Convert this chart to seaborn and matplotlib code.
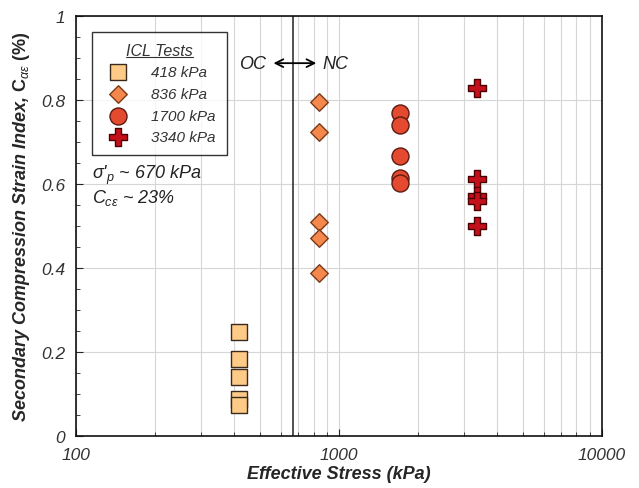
import matplotlib
matplotlib.use("Agg")
import matplotlib.pyplot as plt
from matplotlib.lines import Line2D
import seaborn as sns

# ICL test results: Calpha_e (%) vs effective stress (kPa)
stress_418 = [418, 418, 418, 418, 418]
calpha_418 = [0.248, 0.183, 0.140, 0.088, 0.074]

stress_836 = [836, 836, 836, 836, 836]
calpha_836 = [0.796, 0.724, 0.510, 0.471, 0.388]

stress_1700 = [1700, 1700, 1700, 1700, 1700]
calpha_1700 = [0.770, 0.741, 0.666, 0.614, 0.602]

stress_3340 = [3340, 3340, 3340, 3340, 3340]
calpha_3340 = [0.828, 0.612, 0.572, 0.560, 0.501]

labels = ["418 kPa", "836 kPa", "1700 kPa", "3340 kPa"]
sigma_p = 670

sns.set_style("white")
plt.rcParams["font.family"] = ["Liberation Sans", "DejaVu Sans"]
plt.rcParams["mathtext.fontset"] = "custom"
plt.rcParams["mathtext.rm"] = "Liberation Sans"
plt.rcParams["mathtext.it"] = "Liberation Sans:italic"
plt.rcParams["mathtext.bf"] = "Liberation Sans:bold"

fig = plt.figure(figsize=(6.39, 4.89), dpi=100)
ax = fig.add_axes([0.119, 0.106, 0.823, 0.859])

groups = [
    (stress_418, calpha_418, "s", "#fdca88", "#3a2a1a", 120),
    (stress_836, calpha_836, "D", "#f4874b", "#7a3a18", 80),
    (stress_1700, calpha_1700, "o", "#e34a30", "#5e1a10", 150),
    (stress_3340, calpha_3340, "P", "#c4101a", "#4a0000", 150),
]
for (xs, ys, mk, fc, ec, sz), lab in zip(groups, labels):
    sns.scatterplot(x=xs, y=ys, marker=mk, color=fc, edgecolor=ec,
                    linewidth=1.0, s=sz, ax=ax, label=lab, zorder=3)

ax.set_xscale("log")
ax.set_xlim(100, 10000)
ax.set_ylim(0, 1)

ax.axvline(sigma_p, color="#222222", lw=1.1, zorder=2)

ax.grid(True, which="both", axis="x", color="#d6d6d6", lw=0.8)
ax.grid(True, which="major", axis="y", color="#d6d6d6", lw=0.8)
ax.set_yticks([0, 0.2, 0.4, 0.6, 0.8, 1])
ax.set_yticklabels(["0", "0.2", "0.4", "0.6", "0.8", "1"])
ax.set_yticks([i * 0.05 for i in range(21)], minor=True)
ax.set_xticks([100, 1000, 10000])
ax.set_xticklabels(["100", "1000", "10000"])
ax.tick_params(which="both", direction="in", left=True, bottom=True,
               labelsize=12.5, labelcolor="#333333", pad=8)
ax.tick_params(which="major", length=5)
ax.tick_params(which="minor", length=3)
for t in ax.get_xticklabels() + ax.get_yticklabels():
    t.set_fontstyle("italic")
for sp in ax.spines.values():
    sp.set_color("#111111")
    sp.set_linewidth(1.2)

ax.set_xlabel("Effective Stress (kPa)", fontsize=13, fontweight="bold",
              fontstyle="italic", labelpad=2)
ax.set_ylabel(r"Secondary Compression Strain Index, $\mathbf{C}_{\alpha\varepsilon}$ $\mathbf{(\%)}$",
              fontsize=13, fontweight="bold", fontstyle="italic", labelpad=6)

# OC <-> NC annotation
ax.annotate("", xy=(550, 0.888), xytext=(840, 0.888),
            arrowprops=dict(arrowstyle="<->", color="black", lw=1.3,
                            mutation_scale=14))
ax.text(528, 0.888, "OC", ha="right", va="center", fontsize=13,
        fontstyle="italic", color="#222222")
ax.text(862, 0.888, "NC", ha="left", va="center", fontsize=13,
        fontstyle="italic", color="#222222")

ax.text(0.03, 0.624, "σ'$_{p}$ ~ 670 kPa", transform=ax.transAxes,
        fontsize=13, fontstyle="italic", va="center", color="#222222")
ax.text(0.03, 0.569, r"$C_{c\varepsilon}$ ~ 23%", transform=ax.transAxes,
        fontsize=13, fontstyle="italic", va="center", color="#222222")

leg = ax.legend(title="ICL Tests", loc="upper left",
                bbox_to_anchor=(0.03, 0.962), borderaxespad=0, fontsize=11,
                title_fontsize=11.5, frameon=True, fancybox=False,
                handletextpad=1.2, labelspacing=0.5, borderpad=0.7,
                edgecolor="black")
leg.get_frame().set_linewidth(1.0)
for t in leg.get_texts():
    t.set_fontstyle("italic")
    t.set_color("#333333")
leg.get_title().set_color("#333333")
leg.get_title().set_fontstyle("italic")

# underline the legend title
fig.canvas.draw()
bb = leg.get_title().get_window_extent().transformed(fig.transFigure.inverted())
fig.add_artist(Line2D([bb.x0, bb.x1], [bb.y0 + 0.002, bb.y0 + 0.002],
                      transform=fig.transFigure, color="#333333", lw=0.8))

fig.savefig("out.png", dpi=100)
